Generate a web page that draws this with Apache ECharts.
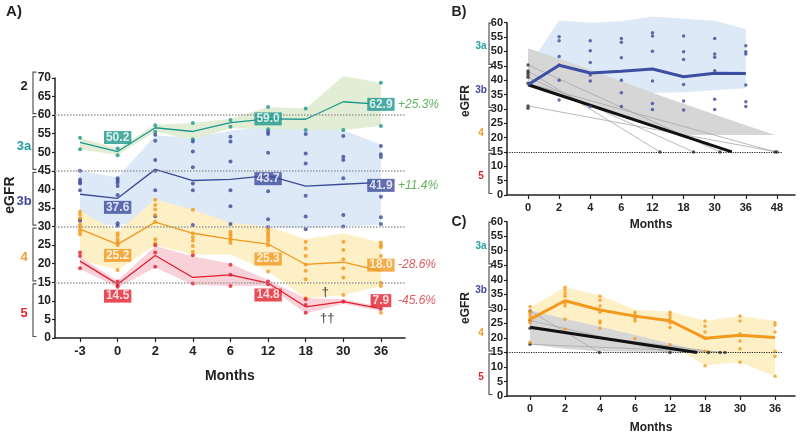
<!DOCTYPE html>
<html><head><meta charset="utf-8">
<script src="https://cdn.jsdelivr.net/npm/echarts@6/dist/echarts.min.js"></script>
<style>html,body{margin:0;padding:0;background:#fff}#c{width:800px;height:435px}</style>
</head><body><div id="c"></div>
<script>
// ---------- DATA ----------
const monthsA = ['-3','0','2','4','6','12','18','30','36'];
const monthsB = ['0','2','4','6','12','18','30','36','48'];
const monthsC = ['0','2','4','6','12','18','30','36'];

// Panel A: mean lines per CKD stage group
const meanA3a = [52.7, 50.2, 56.6, 55.6, 58.0, 59.0, 58.9, 63.6, 62.9];
const meanA3b = [38.7, 37.6, 45.4, 42.4, 42.7, 43.7, 40.9, 41.4, 41.9];
const meanA4  = [29.3, 25.2, 31.2, 28.2, 26.6, 25.3, 19.8, 20.4, 18.0];
const meanA5  = [20.7, 14.5, 22.2, 16.3, 17.0, 14.8, 8.4, 9.8, 7.9];
// Panel A: shaded ranges
const lowA3a  = [50.8, 49.3, 55.5, 53.4, 56.5, 56.3, 56.0, 56.0, 57.1];
const highA3a = [53.9, 51.1, 57.4, 57.9, 59.0, 62.2, 61.8, 70.5, 68.7];
const lowA3b  = [31.0, 30.2, 32.5, 30.2, 29.5, 29.8, 29.5, 30.0, 30.5];
const highA3b = [45.0, 43.2, 54.5, 54.0, 55.8, 57.0, 56.5, 56.0, 52.0];
const lowA4   = [21.0, 18.3, 25.0, 22.5, 22.5, 18.0, 10.7, 11.6, 14.0];
const highA4  = [34.2, 28.6, 37.3, 34.6, 31.0, 30.0, 26.6, 28.2, 25.8];
const lowA5   = [18.6, 13.6, 19.0, 14.3, 14.0, 14.0, 6.6, 9.2, 7.2];
const highA5  = [21.8, 15.4, 24.8, 22.0, 20.0, 15.6, 10.7, 10.4, 8.4];
// Panel A: individual patients
const dotsA3a = [[53.9,50.8],[51.0,49.2],[57.3,55.5],[57.9,53.5],[58.7,56.9],[62.2,56.2],[61.8,56.0],[70.5,56.0],[68.7,57.1]];
const dotsA3b = [[45.0,42.7,42.1,41.6,39.8,32.0,31.6],[43.0,42.4,41.8,40.9,38.5,30.9,30.2],[54.7,53.1,47.9,45.0,39.8,32.8],
  [52.9,50.2,46.0,41.6,39.8,30.4],[54.2,52.9,47.5,39.8,35.5,30.7],[55.5,54.9,49.9,39.5,32.0,29.8],[54.9,49.7,47.0,38.3,32.7,29.3],
  [54.4,48.8,47.9,43.0,33.1,30.0],[51.7,49.5,48.7,38.0,32.5,30.7]];
const dotsA4 = [[34.0,33.2,32.2,30.6,30.0,29.3,28.6,27.9],[28.2,27.5,26.6,25.9,25.5,25.0,18.3],[37.2,35.8,34.6,33.1,31.3,26.6,25.5],
  [34.5,28.2,27.1,26.2,24.8,23.2],[28.6,28.0,27.5,26.8,26.2,25.6],[29.3,28.6,28.0,27.3,26.6,25.9,25.0,17.9],
  [25.9,24.1,22.1,19.8,18.1,15.8,10.7],[25.9,23.7,21.2,18.8,16.3,11.6],[25.7,25.0,24.4,22.1,20.1,14.9,14.0,6.8]];
const dotsA5 = [[23.0,22.1,18.8],[15.2,14.3,13.8],[25.0,23.0,19.2],[22.3,14.7],[19.7,17.0,14.0],[15.2,14.5],[10.4,8.9,6.8],[9.8],[7.9]];
const labelIdxA = [1, 5, 8];
const pctA = ['+25.3%', '+11.4%', '-28.6%', '-45.6%'];
const daggerA = [[6.52, 12.4, '\u2020'], [6.57, 5.3, '\u2020\u2020']];
const stageNamesA = ['2','3a','3b','4','5'];
const stageRangesA = [[60,72],[45,60],[30,45],[15,30],[0,15]];
const stageNamesBC = ['3a','3b','4','5'];
const stageRangesBC = [[45,60.4],[30,45],[15,30],[0,15]];

// Panel B
const meanB = [38.4, 45.2, 42.5, 43.1, 43.9, 41.2, 42.4, 42.3];
const lowB  = [38.0, 36.4, 36.0, 35.8, 35.5, 35.8, 36.5, 37.2];
const highB = [44.5, 60.8, 60.0, 60.5, 62.2, 61.4, 60.7, 57.8];
const dotsB = [[],[55.1,53.7,48.2,45.3,40.0,33.1],[53.7,50.2,46.1,41.8,39.7,30.8],[54.5,53.2,47.8,40.0,35.6,30.8],
  [56.5,55.4,50.1,39.7,31.9,29.8],[55.4,49.9,47.2,38.5,32.7,29.6],[54.5,49.1,48.0,43.3,33.3,29.8],[52.0,49.9,49.1,38.3,32.5,30.8]];
const baseB = [45.3, 43.2, 42.6, 41.8, 41.0, 38.9, 31.0, 30.2];
const endXB = [4.24, 5.32, 6.17, 7.94, 8.0];
const slopeB = [[43.2, 4.24], [41.0, 5.32], [45.3, 6.17], [38.9, 7.94], [31.0, 8.0]];
const fitB = [[0, 38.4], [6.55, 15]];
const coneTopB = [[0,51.1],[1,47.5],[2,43.6],[3,39.6],[4,35.6],[5,31.8],[6,28.0],[7,24.3],[7.94,20.9]];
const coneBotB = [[0,38.3],[1,35.0],[2,31.5],[3,28.0],[4,24.5],[4.8,20.9]];

// Panel C
const meanC = [26.4, 32.8, 29.6, 27.5, 25.9, 19.9, 20.9, 20.1];
const lowC  = [25.8, 23.1, 21.3, 19.6, 17.6, 10.6, 11.6, 6.8];
const highC = [30.5, 37.4, 34.7, 29.7, 29.1, 25.8, 27.5, 25.8];
const dotsC = [[30.8,29.1,28.4,27.5,26.6,25.8,25.1,18.5],[37.4,36.5,35.4,34.3,31.9,31.0,26.4,22.9],[34.3,33.0,31.0,28.8,25.8,25.1,23.3],
  [28.8,28.0,27.3,26.6,25.8,19.8],[28.8,28.0,26.9,25.8,25.1,23.6,17.6],[25.8,24.0,22.0,19.8,15.4,10.4],
  [27.5,25.8,21.4,18.9,16.3,11.6],[25.3,24.4,22.0,15.4,13.7,6.8]];
const baseC = [29.3, 26.0, 23.3, 17.8];
const endXC = [1.98, 4.0, 5.1, 5.43, 5.57];
const slopeC = [[29.3, 1.98], [26.0, 4.0], [23.3, 5.1], [23.3, 5.43], [17.8, 5.57]];
const fitC = [[0, 23.7], [4.77, 15]];
const coneTopC = [[0,29.5],[1,26.6],[2,23.8],[3,21.0],[4,18.1],[5.0,15.2]];
const coneBotC = [[0,17.8],[1,16.3],[2,15.4],[3,15.2],[5.0,15.0]];

// ---------- STYLE ----------
const FONT = '"Liberation Sans", Arial, Helvetica, sans-serif';
const C3a = '#1d968c', C3b = '#3c4a9c', C4 = '#f2991e', C5 = '#e11f2d';
const stageColor = {'2':'#222222','3a':'#23a0a2','3b':'#3f4a9e','4':'#f0a030','5':'#e0262e'};
const boxOffsetA = [[-14, 0, 0], [9, 3, 3], [11, 15, -6], [12, 12, -8]];
const pctColor = ['#3a9d3a', '#3a9d3a', '#d32f35', '#d32f35'];
const stageShiftA = [-6, 3, 3, 3, 3];

const chart = echarts.init(document.getElementById('c'));

const pairs = v => v.map((y, i) => [i, y]);
const flat = g => { const o = []; g.forEach((a, i) => a.forEach(v => o.push([i, v]))); return o; };

function band(gi, low, high, color, z) {
  return { type: 'custom', xAxisIndex: gi, yAxisIndex: gi, silent: true, z: z, clip: false, data: [[0, 0]],
    renderItem: (p, api) => {
      const pts = [];
      high.forEach((v, i) => pts.push(api.coord([i, v])));
      for (let i = low.length - 1; i >= 0; i--) pts.push(api.coord([i, low[i]]));
      return { type: 'polygon', shape: { points: pts }, style: { fill: color } };
    } };
}
function poly(gi, top, bot, color, z) {
  return { type: 'custom', xAxisIndex: gi, yAxisIndex: gi, silent: true, z: z, clip: false, data: [[0, 0]],
    renderItem: (p, api) => {
      const pts = top.map(q => api.coord(q));
      for (let i = bot.length - 1; i >= 0; i--) pts.push(api.coord(bot[i]));
      return { type: 'polygon', shape: { points: pts }, style: { fill: color } };
    } };
}
function brackets(gi, names, ranges, xmin, offB, offL, fs, shifts) {
  return { type: 'custom', xAxisIndex: gi, yAxisIndex: gi, silent: true, z: 6, clip: false, data: [[0, 0]],
    renderItem: (p, api) => {
      const ch = [];
      const x0 = api.coord([xmin, 0])[0];
      const bx = x0 - offB;
      names.forEach((n, k) => {
        const yt = api.coord([xmin, ranges[k][1]])[1] + 1.5;
        const yb = api.coord([xmin, ranges[k][0]])[1] - 1.5;
        ch.push({ type: 'polyline', shape: { points: [[bx + 3.5, yt], [bx, yt], [bx, yb], [bx + 3.5, yb]] },
          style: { stroke: '#555', lineWidth: 1.2, fill: null } });
        ch.push({ type: 'text', x: x0 - offL, y: (yt + yb) / 2 + (shifts ? shifts[k] : 3),
          style: { text: n, fill: stageColor[n], fontSize: fs, fontWeight: 'bold', fontFamily: FONT,
            align: 'center', verticalAlign: 'middle', textAlign: 'center', textVerticalAlign: 'middle' } });
      });
      return { type: 'group', children: ch };
    } };
}
function dots(gi, data, color, size, z, extra) {
  return Object.assign({ type: 'scatter', xAxisIndex: gi, yAxisIndex: gi, silent: true, z: z || 3,
    symbolSize: size, itemStyle: { color: color }, data: data }, extra || {});
}
function mline(gi, data, color, w, z) {
  return { type: 'line', xAxisIndex: gi, yAxisIndex: gi, silent: true, z: z || 4, showSymbol: false, symbol: 'none',
    lineStyle: { color: color, width: w }, data: data };
}
function xAx(gi, min, max, labels, fs, nameGap) {
  return { gridIndex: gi, type: 'value', min: min, max: max,
    axisLine: { show: true, onZero: false, lineStyle: { color: '#222', width: 1.5 } },
    axisTick: { show: true, customValues: labels.map((l, i) => i), length: 4, lineStyle: { color: '#222', width: 1.2 } },
    axisLabel: { customValues: labels.map((l, i) => i), formatter: v => labels[Math.round(v)], fontSize: fs, fontWeight: 'bold', color: '#222', margin: 7, fontFamily: FONT },
    splitLine: { show: false },
    name: 'Months', nameLocation: 'middle', nameGap: nameGap,
    nameTextStyle: { fontSize: fs + 1, fontWeight: 'bold', color: '#222', fontFamily: FONT } };
}
function yAx(gi, max, fs) {
  return { gridIndex: gi, type: 'value', min: 0, max: max, interval: 5,
    axisLine: { show: true, onZero: false, lineStyle: { color: '#222', width: 1.5 } },
    axisTick: { show: true, length: 3, lineStyle: { color: '#222', width: 1.2 } },
    axisLabel: { fontSize: fs, fontWeight: 'bold', color: '#222', margin: 4, fontFamily: FONT },
    splitLine: { show: false } };
}

const groupsA = [
  { mean: meanA3a, low: lowA3a, high: highA3a, d: dotsA3a, c: C3a, band: '#e2edd6' },
  { mean: meanA3b, low: lowA3b, high: highA3b, d: dotsA3b, c: C3b, band: '#dde9f6' },
  { mean: meanA4, low: lowA4, high: highA4, d: dotsA4, c: C4, band: '#fdf0c6' },
  { mean: meanA5, low: lowA5, high: highA5, d: dotsA5, c: C5, band: '#f8d1d9' }
];

const series = [];
// Panel A bands (blue first, then teal, yellow, pink)
[1, 0, 2, 3].forEach(k => series.push(band(0, groupsA[k].low, groupsA[k].high, groupsA[k].band, 1)));
groupsA.forEach((g, k) => {
  const extra = k === 0 ? { markLine: { silent: true, symbol: 'none', label: { show: false },
    lineStyle: { type: 'dotted', color: '#9a9a9a', width: 1.5 },
    data: [60, 45, 30, 15].map(v => ({ yAxis: v })) } } : {};
  series.push(dots(0, flat(g.d), g.c, 4, 3, extra));
});
groupsA.forEach(g => series.push(mline(0, pairs(g.mean), g.c, 1.3, 4)));
groupsA.forEach((g, k) => {
  series.push({ type: 'scatter', xAxisIndex: 0, yAxisIndex: 0, silent: true, z: 6, symbolSize: 0.1,
    itemStyle: { color: 'rgba(0,0,0,0)' },
    data: labelIdxA.map((i, j) => ({ value: [i, g.mean[i]],
      label: { offset: [0, boxOffsetA[k][j]] } })),
    label: { show: true, position: 'inside', formatter: p => p.value[1].toFixed(1),
      backgroundColor: g.c, color: '#fff', fontWeight: 'bold', fontSize: 12, fontFamily: FONT,
      padding: [1, 2, 0, 2], lineHeight: 12 } });
  series.push({ type: 'scatter', xAxisIndex: 0, yAxisIndex: 0, silent: true, z: 6, symbolSize: 0.1,
    itemStyle: { color: 'rgba(0,0,0,0)' },
    data: [{ value: [8, g.mean[8]], label: { offset: [0, boxOffsetA[k][2]] } }],
    label: { show: true, position: 'right', distance: 17, formatter: pctA[k], color: pctColor[k],
      fontStyle: 'italic', fontSize: 12, fontFamily: FONT } });
});
series.push({ type: 'scatter', xAxisIndex: 0, yAxisIndex: 0, silent: true, z: 6, symbolSize: 0.1,
  itemStyle: { color: 'rgba(0,0,0,0)' }, data: daggerA,
  label: { show: true, position: 'inside', formatter: p => p.value[2], color: '#333', fontWeight: 'bold', fontSize: 13, fontFamily: FONT } });
series.push(brackets(0, stageNamesA, stageRangesA, -0.665, 22, 31, 13, stageShiftA));

// Panel B
series.push(band(1, lowB, highB, '#dde9f6', 1));
series.push(poly(1, coneTopB, coneBotB, '#d6d6d6', 1));
slopeB.forEach(s => series.push(mline(1, [[0, s[0]], [s[1], 15]], '#a8a8a8', 0.8, 2)));
series.push(mline(1, fitB, '#111', 3, 3));
series.push(dots(1, baseB.map(v => [0, v]).concat(endXB.map(x => [x, 15])), '#333', 3.5, 3, {
  markLine: { silent: true, symbol: 'none', label: { show: false }, lineStyle: { type: 'dotted', color: '#222', width: 1.2 },
    data: [[{ coord: [-0.675, 15] }, { coord: [8.17, 15] }]] } }));
series.push(dots(1, flat(dotsB), C3b, 3.5, 3));
series.push(mline(1, pairs(meanB), '#3d4da3', 3, 4));
series.push(brackets(1, stageNamesBC, stageRangesBC, -0.675, 18, 26, 10));

// Panel C
series.push(band(2, lowC, highC, '#fdf0c6', 1));
series.push(poly(2, coneTopC, coneBotC, '#d6d6d6', 1));
slopeC.forEach(s => series.push(mline(2, [[0, s[0]], [s[1], 15]], '#a8a8a8', 0.8, 2)));
series.push(mline(2, fitC, '#111', 3, 3));
series.push(dots(2, baseC.map(v => [0, v]).concat(endXC.map(x => [x, 15])), '#333', 3.5, 3, {
  markLine: { silent: true, symbol: 'none', label: { show: false }, lineStyle: { type: 'dotted', color: '#222', width: 1.2 },
    data: [[{ coord: [-0.657, 15] }, { coord: [7.2, 15] }]] } }));
series.push(dots(2, flat(dotsC), C4, 3.5, 3));
series.push(mline(2, pairs(meanC), '#f2991e', 3, 4));
series.push(brackets(2, stageNamesBC, stageRangesBC, -0.657, 18, 26, 10));

function txt(x, y, s, fs, rot) {
  return { type: 'text', x: x, y: y, rotation: rot || 0,
    style: { text: s, fontSize: fs, fontWeight: 'bold', fill: '#222', fontFamily: FONT,
      align: 'center', verticalAlign: 'middle', textAlign: 'center', textVerticalAlign: 'middle' } };
}

chart.setOption({
  animation: false,
  textStyle: { fontFamily: FONT },
  grid: [
    { left: 55, top: 78, width: 350, height: 260 },
    { left: 507, top: 22.7, width: 288, height: 172.3 },
    { left: 507, top: 221.7, width: 288, height: 181.6 }
  ],
  xAxis: [ xAx(0, -0.665, 8.64, monthsA, 13, 31), xAx(1, -0.675, 8.58, monthsB, 11, 24), xAx(2, -0.657, 7.57, monthsC, 11, 26) ],
  yAxis: [ yAx(0, 70, 12), yAx(1, 60, 11), yAx(2, 60, 11) ],
  graphic: [
    txt(14, 12, 'A)', 15), txt(459, 12, 'B)', 14), txt(459, 222, 'C)', 14),
    txt(10, 195, 'eGFR', 14, Math.PI / 2), txt(466, 101, 'eGFR', 12, Math.PI / 2), txt(466, 308, 'eGFR', 12, Math.PI / 2)
  ],
  series: series
});
</script>
</body></html>
